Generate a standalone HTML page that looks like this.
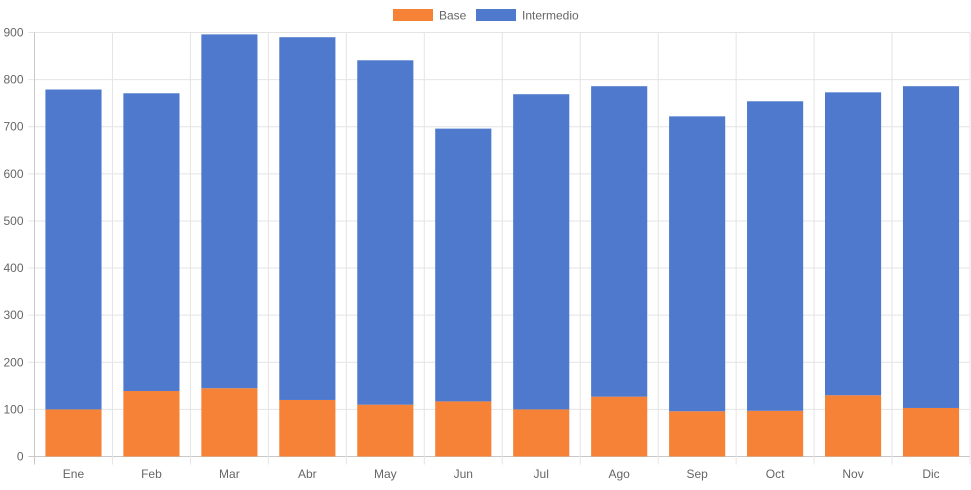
<!DOCTYPE html>
<html><head><meta charset="utf-8"><style>
body{margin:0;background:#fff;font-family:"Liberation Sans",sans-serif;}
svg text{font-family:"Liberation Sans",sans-serif;font-size:12px;fill:#666;}
</style></head><body>
<svg id="chart" width="971" height="485">
<g>
<g><rect x="393" y="9" width="40" height="12" fill="#f58236"/><text x="439" y="19.5">Base</text></g>
<g><rect x="476" y="9" width="40" height="12" fill="#4e79cc"/><text x="522" y="19.5">Intermedio</text></g>
</g>
<g id="grid"></g><g id="bars"></g><g id="axes"></g>
</svg>
<script>
const categories=["Ene","Feb","Mar","Abr","May","Jun","Jul","Ago","Sep","Oct","Nov","Dic"];
const baseValues=[100,139,145,120,110,117,100,127,96,97,130,103];
const intermedioValues=[679,632,751,770,731,579,669,659,626,657,643,683];
const yTicks=[0,100,200,300,400,500,600,700,800,900];
const NS="http://www.w3.org/2000/svg";
const L=34.5,R=970,T=32.5,B=456.5,yMax=900;
const cw=(R-L)/categories.length;
const y=v=>B-(v/yMax)*(B-T);
const xC=i=>L+cw*i+cw/2;
function mk(t,a,p){const e=document.createElementNS(NS,t);for(const k in a)e.setAttribute(k,a[k]);p.appendChild(e);return e;}
const grid=document.getElementById('grid'),bars=document.getElementById('bars'),axes=document.getElementById('axes');
yTicks.forEach(v=>{
 const ln=mk('line',{x1:L-6,x2:R,y1:y(v),y2:y(v),stroke:v===0?'#c8c8c8':'#e4e4e4'},grid);
 
 
 const t=mk('text',{x:L-11,y:y(v)+4,'text-anchor':'end'},axes);t.textContent=v;
 
 
});
for(let i=0;i<=categories.length;i++){
 const x=L+cw*i;
 const ln=mk('line',{x1:x,x2:x,y1:T,y2:B+8,stroke:i===0?'#c8c8c8':'#e4e4e4'},grid);
 
 
}
const bw=cw*0.72;
categories.forEach((c,i)=>{
 const b=baseValues[i],m=intermedioValues[i];
 const r1=mk('rect',{x:xC(i)-bw/2,y:y(b),width:bw,height:B-y(b),fill:'#f58236'},bars);
 
 
 const r2=mk('rect',{x:xC(i)-bw/2,y:y(b+m),width:bw,height:y(b)-y(b+m),fill:'#4e79cc'},bars);
 
 
 const t=mk('text',{x:xC(i),y:478,'text-anchor':'middle'},axes);t.textContent=c;
 
 
});
</script>
</body></html>
